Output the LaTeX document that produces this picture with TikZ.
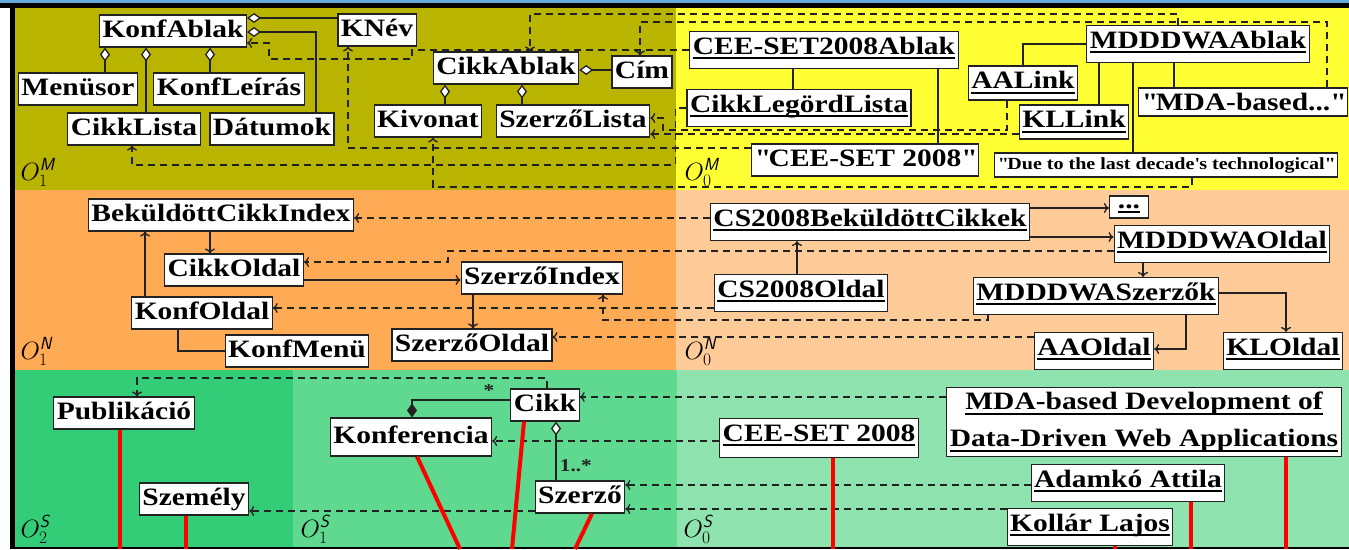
\RequirePackage{fix-cm}
\documentclass[tikz,border=0pt]{standalone}
\usepackage{amsmath}
\usepackage{fontspec}
\setmainfont{Liberation Serif}[FakeStretch=1.18]
\usepackage{tikz}
\usetikzlibrary{arrows.meta}

\definecolor{olivebg}{RGB}{184,180,0}
\definecolor{yellowbg}{RGB}{255,255,51}
\definecolor{orangebg}{RGB}{255,170,85}
\definecolor{peachbg}{RGB}{255,204,153}
\definecolor{greenbg}{RGB}{51,204,119}
\definecolor{midgreenbg}{RGB}{95,217,143}
\definecolor{lightgreenbg}{RGB}{142,227,174}
\definecolor{topblue}{RGB}{102,170,221}
\definecolor{linegray}{RGB}{34,34,34}

\newcommand{\objname}[1]{\setbox0=\hbox{#1}\rlap{\rule[-5pt]{\wd0}{2pt}}\box0}
\newcommand{\qt}{\textquotedbl}

\begin{document}
\begin{tikzpicture}[x=1pt,y=-1pt,>={To[length=5pt,width=10pt]},
  cls/.style={draw=linegray,fill=white,line width=1.1pt,font=\bfseries\fontsize{25}{25}\selectfont,
    inner xsep=3pt,inner ysep=4.5pt,text height=18pt,text depth=5pt},
  obj/.style={cls,text depth=10pt},
  lnk/.style={linegray,line width=1.3pt},
  agg/.style={lnk,{Diamond[fill=white,length=14pt,width=10pt]}-},
  comp/.style={lnk,-{Diamond[length=14pt,width=10pt]}},
  nav/.style={lnk,->},
  inst/.style={lnk,->,dash pattern=on 7pt off 5pt},
  trace/.style={red,line width=4pt},
  olab/.style={anchor=base west,font=\fontsize{25}{25}\selectfont},
  mult/.style={font=\bfseries\fontsize{18}{18}\selectfont}]

  \useasboundingbox (0,0) rectangle (1349,549);

  % layers
  \fill[white] (0,0) rectangle (1349,549);
  \fill[topblue] (0,0) rectangle (1349,3);
  \fill[black] (0,3) rectangle (1349,8);
  \fill[olivebg] (15,8) rectangle (676,190);
  \fill[yellowbg] (676,8) rectangle (1349,190);
  \fill[orangebg] (15,190) rectangle (676,370);
  \fill[peachbg] (676,190) rectangle (1349,370);
  \fill[greenbg] (15,370) rectangle (293,549);
  \fill[midgreenbg] (293,370) rectangle (677,549);
  \fill[lightgreenbg] (677,370) rectangle (1349,549);
  \fill[black] (10,3) rectangle (15,549);
  \fill[black] (15,546.5) rectangle (1349,549);

  \node[olab] (om1) at (17,180) {$O^{\textsf{\textit{M}}}_{1}$};
  \node[olab] (om0) at (681,180) {$O^{\textsf{\textit{M}}}_{0}$};
  \node[olab] (on1) at (17,359) {$O^{\textsf{\textit{N}}}_{1}$};
  \node[olab] (on0) at (681,359) {$O^{\textsf{\textit{N}}}_{0}$};
  \node[olab] (os2) at (17,537) {$O^{\textsf{\textit{S}}}_{2}$};
  \node[olab] (os1) at (297,537) {$O^{\textsf{\textit{S}}}_{1}$};
  \node[olab] (os0) at (680,537) {$O^{\textsf{\textit{S}}}_{0}$};

  % M level
  \node[cls] (konfablak) at (173,31) {KonfAblak};
  \node[cls] (menusor) at (78,89) {Menüsor};
  \node[cls] (konfleiras) at (229,89) {KonfLeírás};
  \node[cls] (cikklista) at (134,129) {CikkLista};
  \node[cls] (datumok) at (272,129) {Dátumok};
  \node[cls] (knev) at (377,30) {KNév};
  \node[cls] (cikkablak) at (506,68) {CikkAblak};
  \node[cls] (cim) at (642,72) {Cím};
  \node[cls] (kivonat) at (428,121) {Kivonat};
  \node[cls] (szerzolista) at (573,121) {SzerzőLista};

  \node[obj] (cs08ablak) at (824,50) {\objname{CEE-SET2008Ablak}};
  \node[obj] (cikklegord) at (799,108) {\objname{CikkLegördLista}};
  \node[cls] (cs08cim) at (865,160) {\qt CEE-SET 2008\qt};
  \node[obj,text depth=7pt] (aalink) at (1023,83) {\objname{AALink}};
  \node[obj] (mdddwaablak) at (1198,44) {\objname{MDDDWAAblak}};
  \node[obj,text depth=7pt] (kllink) at (1074,122) {\objname{KLLink}};
  \node[cls,text depth=2pt,inner ysep=4pt] (mdacim) at (1243,102) {\qt MDA-based...\qt};
  \node[cls,font=\bfseries\fontsize{17}{17}\selectfont,text height=12pt,text depth=4pt,inner ysep=4pt] (duetext) at (1166,165) {\qt Due to the last decade\textquotesingle s technological\qt};

  \draw[agg] (konfablak.south -| 105,0) -- (menusor.north -| 105,0);
  \draw[agg] (konfablak.south -| 146,0) -- (cikklista.north -| 146,0);
  \draw[agg] (konfablak.south -| 210,0) -- (konfleiras.north -| 210,0);
  \draw[agg] (konfablak.east |- 0,18) -- (knev.west |- 0,18);
  \draw[agg] (konfablak.east |- 0,32) -| (datumok.north -| 316,0);
  \draw[agg] (cikkablak.south -| 445,0) -- (kivonat.north -| 445,0);
  \draw[agg] (cikkablak.south -| 522,0) -- (szerzolista.north -| 522,0);
  \draw[agg] (cikkablak.east |- 0,70) -- (cim.west |- 0,70);

  \draw[lnk] (cs08ablak.south -| 793,0) -- (cikklegord.north -| 793,0);
  \draw[lnk] (cs08ablak.south -| 938,0) -- (cs08cim.north -| 938,0);
  \draw[lnk] (mdddwaablak.west) -| (aalink.north -| 1023,0);
  \draw[lnk] (mdddwaablak.south -| 1099,0) -- (kllink.north -| 1099,0);
  \draw[lnk] (mdddwaablak.south -| 1133,0) -- (duetext.north -| 1133,0);
  \draw[lnk] (mdddwaablak.south -| 1174,0) -- (mdacim.north -| 1174,0);

  \draw[inst] (mdddwaablak.north -| 1178,0) |- (530,14) -- (cikkablak.north -| 530,0);
  \draw[inst] (mdacim.north -| 1327,0) |- (640,22) -- (cim.north -| 640,0);
  \draw[inst] (cs08ablak.west) -| (412,59) -| (269,43) -- (konfablak.east |- 0,43);
  \draw[inst] (cs08cim.west |- 0,148) -| (knev.south -| 348,0);
  \draw[inst] (cikklegord.west) -- ++(-11,0) |- (132,165) -- (cikklista.south -| 132,0);
  \draw[inst] (aalink.south -| 1007,0) |- (663,130) |- (szerzolista.east |- 0,118);
  \draw[inst] (kllink.west |- 0,134) -- (szerzolista.east |- 0,134);
  \draw[inst] (duetext.south -| 1192,0) |- (433,187) -- (kivonat.south -| 433,0);

  % N level
  \node[cls] (bekuldottidx) at (221,215) {BeküldöttCikkIndex};
  \node[cls] (cikkoldal) at (234,270) {CikkOldal};
  \node[cls] (konfoldal) at (202,313) {KonfOldal};
  \node[cls] (konfmenu) at (297,351) {KonfMenü};
  \node[cls] (szerzoidx) at (542,278) {SzerzőIndex};
  \node[cls] (szerzooldal) at (472,345) {SzerzőOldal};

  \node[obj] (cs08bekuldott) at (870,222) {\objname{CS2008BeküldöttCikkek}};
  \node[obj] (cs08oldal) at (801,293) {\objname{CS2008Oldal}};
  \node[obj,minimum width=39pt,text height=9pt,text depth=7pt,inner ysep=3pt] (dots) at (1129,207) {\objname{...}};
  \node[obj] (mdddwaoldal) at (1222,244) {\objname{MDDDWAOldal}};
  \node[obj] (mdddwaszerzok) at (1096,296) {\objname{MDDDWASzerzők}};
  \node[obj] (aaoldal) at (1094,351) {\objname{AAOldal}};
  \node[obj] (kloldal) at (1283,351) {\objname{KLOldal}};

  \draw[nav] (bekuldottidx.south -| 210,0) -- (cikkoldal.north -| 210,0);
  \draw[nav] (konfoldal.north -| 145,0) -- (bekuldottidx.south -| 145,0);
  \draw[lnk] (konfoldal.south -| 178,0) |- (konfmenu.west);
  \draw[nav] (cikkoldal.east |- 0,280) -- (szerzoidx.west |- 0,280);
  \draw[nav] (szerzoidx.south -| 473,0) -- (szerzooldal.north -| 473,0);
  \draw[nav] (cs08oldal.north -| 797,0) -- (cs08bekuldott.south -| 797,0);
  \draw[nav] (cs08bekuldott.east |- 0,208) -- (dots.west |- 0,208);
  \draw[nav] (cs08bekuldott.east |- 0,237) -- (mdddwaoldal.west |- 0,237);
  \draw[nav] (mdddwaoldal.south -| 1143,0) -- (mdddwaszerzok.north -| 1143,0);
  \draw[nav] (mdddwaszerzok.east |- 0,293) -| (kloldal.north -| 1286,0);
  \draw[nav] (mdddwaszerzok.south -| 1186,0) |- (aaoldal.east |- 0,349);

  \draw[inst] (cs08bekuldott.west |- 0,218) -- (bekuldottidx.east |- 0,218);
  \draw[inst] (mdddwaoldal.west |- 0,251) -| (448,262) -- (cikkoldal.east |- 0,262);
  \draw[inst] (cs08oldal.west |- 0,308) -- (konfoldal.east |- 0,308);
  \draw[inst] (mdddwaszerzok.south -| 988,0) |- (603,320) -- (szerzoidx.south -| 603,0);
  \draw[inst] (aaoldal.west |- 0,337) -- (szerzooldal.east |- 0,337);

  % S level
  \node[cls] (publikacio) at (124,413) {Publikáció};
  \node[cls] (szemely) at (194,499) {Személy};
  \node[cls,minimum height=38pt] (konferencia) at (411,437) {Konferencia};
  \node[cls] (cikk) at (545,405) {Cikk};
  \node[cls] (szerzo) at (580,497) {Szerző};

  \node[obj,text depth=12pt] (cs08konf) at (819,438) {\objname{CEE-SET 2008}};
  \node[obj,align=center,text height=,text depth=,font=\bfseries\fontsize{25}{37}\selectfont] (mdacikk) at (1144,422) {\objname{MDA-based Development of}\\\objname{Data-Driven Web Applications}};
  \node[obj] (adamko) at (1128,483) {\objname{Adamkó Attila}};
  \node[obj] (kollar) at (1090,527) {\objname{Kollár Lajos}};

  \draw[inst] (cikk.north -| 547,0) |- (137,378) -- (publikacio.north -| 137,0);
  \draw[comp] (cikk.west |- 0,400) node[mult,above left,xshift=-12pt] {*} -| (konferencia.north -| 412,0);
  \draw[agg] (cikk.south -| 556,0) -- node[mult,pos=0.75,right] {1..*} (szerzo.north -| 556,0);

  \draw[inst] (mdacikk.west |- 0,397) -- (cikk.east |- 0,397);
  \draw[inst] (cs08konf.west |- 0,441) -- (konferencia.east |- 0,441);
  \draw[inst] (adamko.west |- 0,485) -- (szerzo.east |- 0,485);
  \draw[inst] (kollar.west |- 0,509) -- (szerzo.east |- 0,509);
  \draw[inst] (szerzo.west |- 0,511) -- (szemely.east |- 0,511);

  % traces to the level below
  \coordinate (pubend) at (120,549);
  \coordinate (szemend) at (186,549);
  \coordinate (konfend) at (460,549);
  \coordinate (cikkend) at (512,549);
  \coordinate (szerzoend) at (575,549);
  \coordinate (cs08end) at (833,549);
  \coordinate (mdaend) at (1286,549);
  \coordinate (adamkoend) at (1191,549);
  \coordinate (kollarend) at (1115,549);

  \draw[trace] (publikacio.south -| 120,0) -- (pubend);
  \draw[trace] (szemely.south -| 186,0) -- (szemend);
  \draw[trace] (konferencia.south -| 417,0) -- (konfend);
  \draw[trace] (cikk.south -| 524,0) -- (cikkend);
  \draw[trace] (szerzo.south -| 592,0) -- (szerzoend);
  \draw[trace] (cs08konf.south -| 833,0) -- (cs08end);
  \draw[trace] (mdacikk.south -| 1286,0) -- (mdaend);
  \draw[trace] (adamko.south -| 1191,0) -- (adamkoend);
  \draw[trace] (kollar.south -| 1115,0) -- (kollarend);
\end{tikzpicture}
\end{document}
